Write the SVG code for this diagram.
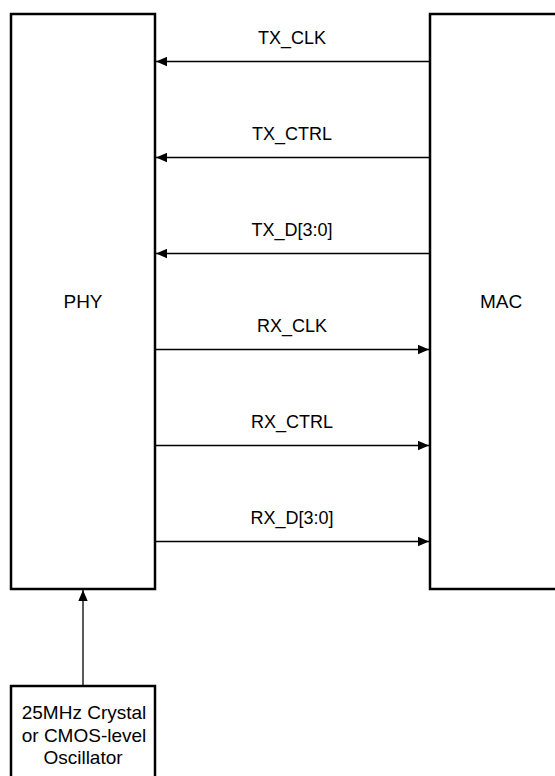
<svg xmlns="http://www.w3.org/2000/svg" width="555" height="776" viewBox="0 0 555 776">
<style>
.box{fill:#fff;stroke:#000;stroke-width:2.5}
.ln{stroke:#000;stroke-width:1.3;fill:none}
.t{font-family:"Liberation Sans",Arial,sans-serif;font-size:18px;fill:#000;text-anchor:middle}
.big{font-size:19px}
.osc{font-size:19px}
</style>
<defs>
<marker id="ah" markerUnits="userSpaceOnUse" markerWidth="12" markerHeight="10" refX="11" refY="5" orient="auto">
<path d="M0,0.3 L11,5 L0,9.7 Z" fill="#000"/>
</marker>
</defs>
<rect width="555" height="776" fill="#fff"/>
<g id="phy">
<rect class="box" x="11" y="14" width="144" height="575"/>
<text class="t big" x="83" y="308">PHY</text>
</g>
<g id="mac">
<rect class="box" x="430" y="14" width="140" height="575"/>
<text class="t big" x="501" y="308">MAC</text>
</g>
<g id="osc">
<rect class="box" x="11" y="686" width="144" height="100"/>
<text class="t osc" x="84" y="719">25MHz Crystal</text>
<text class="t osc" x="84" y="741.5">or CMOS-level</text>
<text class="t osc" x="83" y="764">Oscillator</text>
</g>
<g id="connectors">
<line class="ln" x1="430" y1="61.5" x2="156" y2="61.5" marker-end="url(#ah)"/>
<line class="ln" x1="430" y1="157.5" x2="156" y2="157.5" marker-end="url(#ah)"/>
<line class="ln" x1="430" y1="253.5" x2="156" y2="253.5" marker-end="url(#ah)"/>
<line class="ln" x1="155" y1="349.5" x2="429" y2="349.5" marker-end="url(#ah)"/>
<line class="ln" x1="155" y1="445.5" x2="429" y2="445.5" marker-end="url(#ah)"/>
<line class="ln" x1="155" y1="541.5" x2="429" y2="541.5" marker-end="url(#ah)"/>
<line class="ln" x1="83" y1="686" x2="83" y2="590" marker-end="url(#ah)"/>
<text class="t" x="292" y="44">TX_CLK</text>
<text class="t" x="292" y="140">TX_CTRL</text>
<text class="t" x="292" y="236">TX_D[3:0]</text>
<text class="t" x="292" y="332">RX_CLK</text>
<text class="t" x="292" y="428">RX_CTRL</text>
<text class="t" x="292" y="524">RX_D[3:0]</text>
</g>
</svg>
